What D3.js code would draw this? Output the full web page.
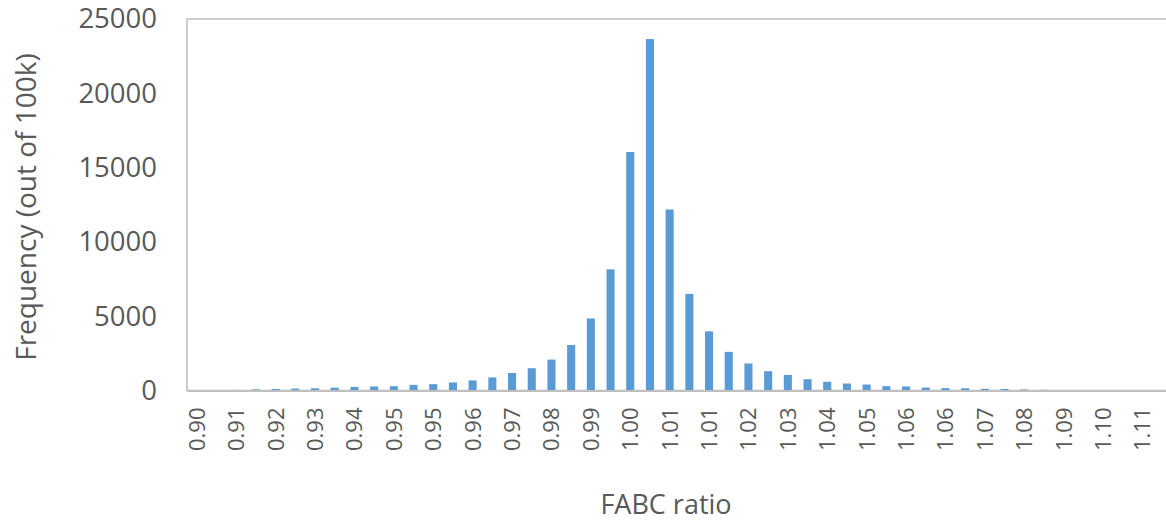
<!DOCTYPE html>
<html>
<head>
<meta charset="utf-8">
<script src="https://cdn.jsdelivr.net/npm/d3@7"></script>
<style>
  html, body { margin: 0; padding: 0; background: #fff; }
  svg { display: block; font-family: "Open Sans", sans-serif; }
</style>
</head>
<body>
<svg id="chart" width="1166" height="525"></svg>
<script>
// ---- data ----
const categories = [
  "0.90","0.90","0.91","0.91","0.92","0.92","0.93","0.93","0.94","0.94",
  "0.95","0.95","0.95","0.96","0.96","0.97","0.97","0.97","0.98","0.98",
  "0.99","0.99","1.00","1.00","1.01","1.01","1.01","1.02","1.02","1.03",
  "1.03","1.04","1.04","1.04","1.05","1.05","1.06","1.06","1.06","1.07",
  "1.07","1.08","1.08","1.08","1.09","1.09","1.10","1.10","1.11","1.11"
];
const frequency = [
  0, 30, 40, 80, 100, 130, 150, 190, 240, 270,
  290, 380, 430, 540, 680, 880, 1180, 1500, 2080, 3060,
  4850, 8150, 16050, 23650, 12180, 6500, 3980, 2600, 1820, 1300,
  1050, 760, 590, 470, 400, 290, 270, 200, 160, 150,
  110, 100, 70, 50, 30, 10, 0, 0, 0, 0
];
const yTicks = [0, 5000, 10000, 15000, 20000, 25000];
const labelEvery = 2;
const yTitle = "Frequency (out of 100k)";
const xTitle = "FABC ratio";

// ---- layout ----
const plot = { left: 187, right: 1172, top: 19, bottom: 390.5 };
const svg = d3.select("#chart");
const textColor = "#595959";
const axisColor = "#BFBFBF";

const idx = categories.map((_, i) => i);
const x = d3.scaleBand().domain(idx).range([plot.left, plot.right])
  .paddingInner(0.59).paddingOuter(0.295);
const y = d3.scaleLinear().domain([0, 25000]).range([plot.bottom, plot.top]);

// plot area frame (top / left / right)
svg.append("rect")
  .attr("x", plot.left).attr("y", plot.top)
  .attr("width", plot.right - plot.left).attr("height", plot.bottom - plot.top)
  .attr("fill", "none").attr("stroke", axisColor).attr("stroke-width", 1.5);

// bars
svg.append("g").selectAll("rect").data(frequency).join("rect")
  .attr("x", (d, i) => x(i))
  .attr("width", x.bandwidth())
  .attr("y", d => y(d))
  .attr("height", d => y(0) - y(d))
  .attr("fill", "#5B9BD5");

// y axis
const yAxis = svg.append("g").attr("transform", `translate(${plot.left},0)`)
  .call(d3.axisLeft(y).tickValues(yTicks).tickSize(0).tickPadding(30).tickFormat(d3.format("d")));
yAxis.select(".domain").remove();
yAxis.selectAll("text").attr("fill", textColor).style("font-size", "27.5px")
  .style("font-family", "'Open Sans', sans-serif");

// x axis
const xAxis = svg.append("g").attr("transform", `translate(0,${plot.bottom})`)
  .call(d3.axisBottom(x)
    .tickValues(idx.filter(i => i % labelEvery === 0))
    .tickFormat(i => categories[i]).tickSize(0));
xAxis.select(".domain").attr("stroke", axisColor).attr("stroke-width", 2);
xAxis.selectAll("text")
  .attr("fill", textColor).style("font-size", "22px")
  .style("font-family", "'Open Sans', sans-serif")
  .attr("text-anchor", "end")
  .attr("transform", "rotate(-90)")
  .attr("x", -17).attr("y", 0).attr("dy", "0.36em");

// axis titles
svg.append("text")
  .attr("transform", `translate(26,207) rotate(-90)`)
  .attr("text-anchor", "middle").attr("dy", "0.35em")
  .attr("fill", textColor).style("font-size", "28px")
  .text(yTitle);

svg.append("text")
  .attr("x", 666).attr("y", 505)
  .attr("text-anchor", "middle").attr("dy", "0.35em")
  .attr("fill", textColor).style("font-size", "27px")
  .text(xTitle);
</script>
</body>
</html>
